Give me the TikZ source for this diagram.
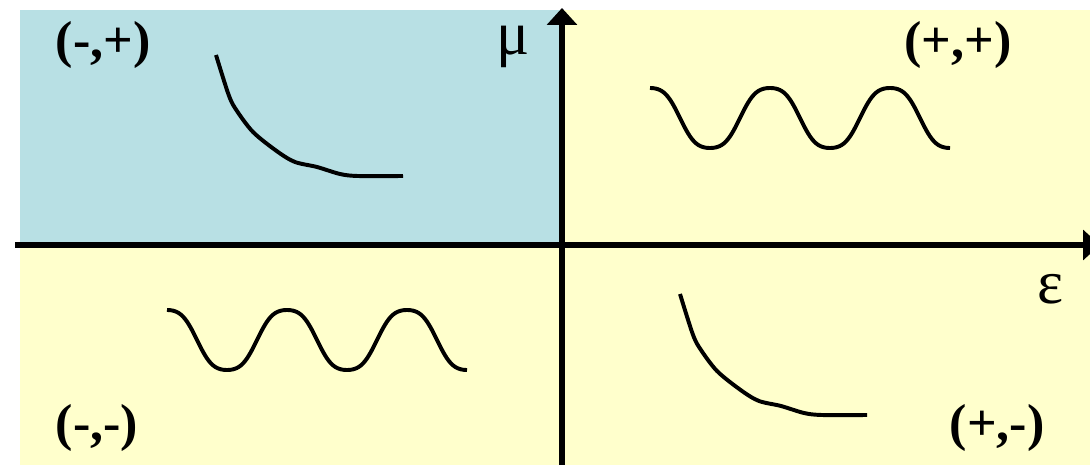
\documentclass[tikz,border=0pt]{standalone}
\usepackage{fontspec}
\setmainfont{Liberation Serif}
\usetikzlibrary{arrows.meta}
\definecolor{qblue}{RGB}{184,224,228}
\definecolor{qyellow}{RGB}{255,255,204}
\tikzset{
  sign/.style={inner sep=0pt, font=\fontsize{37}{40}\selectfont\bfseries},
  axlbl/.style={inner sep=0pt, anchor=base, font=\fontsize{44}{48}\selectfont},
  axis/.style={line width=3.9pt, -{Triangle[length=12pt,width=21pt]}},
  curve/.style={line width=2.8pt, line join=round}
}
\begin{document}
\begin{tikzpicture}[x=0.025cm,y=-0.025cm]
        \useasboundingbox (0,0) rectangle (1090,465);
        % quadrants
        \fill[qblue] (20,10) rectangle (562,245);
        \fill[qyellow] (562,10) rectangle (1090,245);\fill[qyellow] (20,245) rectangle (1090,465);
        % axes
        \coordinate (xl) at (15,245);\coordinate (xr) at (1100,245);
        \coordinate (yb) at (562,465);\coordinate (yt) at (562,8);
        \draw[axis] (xl) -- (xr);\draw[axis] (yb) -- (yt);
        \node[axlbl] (mu) at (513,55) {μ};\node[axlbl] (eps) at (1050,303) {ε};
        % signs
        \node[sign] (mp) at (103,45) {(-,+)};\node[sign] (pp) at (958,45) {(+,+)};
        \node[sign] (mm) at (97,428) {(-,-)};\node[sign] (pm) at (997,428) {(+,-)};
        % decaying curves
        \foreach \dx/\dy in {0/0, 464/239}
          \draw[curve, shift={(\dx,\dy)}] plot[smooth] coordinates {(216,55) (228,93) (235,108) (253,132) (278,152) (295,162) (317,167) (340,174) (358,176) (403,176)};
        % oscillating curves
        \foreach \dx/\dy in {167/340, 650/118}
          \draw[curve, shift={(\dx,\dy)}] plot[domain=0:300, samples=151, smooth] (\x, {-30*(1.3*cos(3*\x)-0.3*cos(3*\x)^3)});
\end{tikzpicture}
\end{document}
